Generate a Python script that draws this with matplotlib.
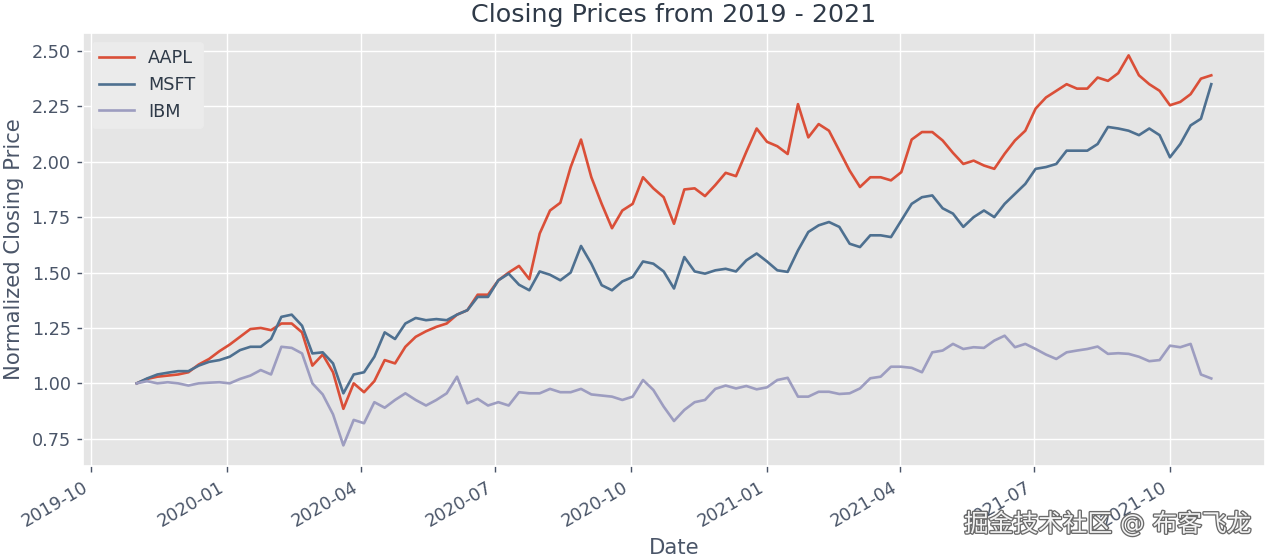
import pandas as pd
import matplotlib
matplotlib.use("Agg")
import matplotlib.pyplot as plt
import matplotlib.dates as mdates
import matplotlib.patheffects as pe

# weekly closes (Fridays), normalized to 2019-11-01
dates = pd.date_range("2019-11-01", periods=105, freq="7D")

aapl = [1.00, 1.02, 1.03, 1.035, 1.04, 1.05, 1.085, 1.11, 1.145, 1.175,
        1.21, 1.245, 1.25, 1.24, 1.27, 1.27, 1.23, 1.08, 1.13, 1.05,
        0.885, 1.00, 0.96, 1.01, 1.105, 1.09, 1.165, 1.21, 1.235, 1.255,
        1.27, 1.31, 1.33, 1.40, 1.40, 1.465, 1.50, 1.53, 1.47, 1.676,
        1.78, 1.815, 1.976, 2.10, 1.93, 1.81, 1.70, 1.78, 1.81, 1.93,
        1.88, 1.84, 1.72, 1.875, 1.88, 1.845, 1.895, 1.95, 1.935, 2.045,
        2.15, 2.09, 2.07, 2.035, 2.26, 2.11, 2.17, 2.14, 2.05, 1.96,
        1.886, 1.93, 1.93, 1.916, 1.953, 2.10, 2.134, 2.134, 2.096, 2.04,
        1.99, 2.005, 1.983, 1.968, 2.036, 2.096, 2.14, 2.24, 2.29, 2.32,
        2.35, 2.33, 2.33, 2.38, 2.365, 2.40, 2.48, 2.39, 2.35, 2.32,
        2.255, 2.27, 2.305, 2.375, 2.39]

msft = [1.00, 1.022, 1.04, 1.048, 1.055, 1.055, 1.08, 1.097, 1.105, 1.12,
        1.15, 1.165, 1.165, 1.20, 1.30, 1.31, 1.26, 1.135, 1.14, 1.09,
        0.955, 1.04, 1.05, 1.12, 1.23, 1.20, 1.27, 1.295, 1.285, 1.29,
        1.285, 1.31, 1.33, 1.39, 1.39, 1.465, 1.495, 1.445, 1.42, 1.505,
        1.49, 1.465, 1.50, 1.62, 1.54, 1.443, 1.42, 1.46, 1.48, 1.55,
        1.54, 1.505, 1.428, 1.57, 1.505, 1.495, 1.51, 1.517, 1.505, 1.555,
        1.586, 1.55, 1.51, 1.503, 1.60, 1.683, 1.713, 1.728, 1.706, 1.63,
        1.615, 1.668, 1.668, 1.66, 1.735, 1.81, 1.84, 1.848, 1.79, 1.766,
        1.706, 1.75, 1.78, 1.75, 1.81, 1.855, 1.90, 1.968, 1.976, 1.99,
        2.05, 2.05, 2.05, 2.08, 2.157, 2.15, 2.14, 2.12, 2.15, 2.12,
        2.02, 2.08, 2.164, 2.194, 2.35]

ibm = [1.00, 1.01, 1.00, 1.005, 1.00, 0.99, 1.00, 1.003, 1.005, 1.00,
       1.02, 1.035, 1.06, 1.04, 1.165, 1.16, 1.135, 1.00, 0.95, 0.86,
       0.72, 0.835, 0.82, 0.915, 0.89, 0.925, 0.955, 0.925, 0.90, 0.925,
       0.955, 1.03, 0.91, 0.93, 0.90, 0.915, 0.90, 0.96, 0.955, 0.955,
       0.975, 0.96, 0.96, 0.975, 0.95, 0.945, 0.94, 0.925, 0.94, 1.015,
       0.97, 0.895, 0.83, 0.88, 0.915, 0.925, 0.975, 0.99, 0.977, 0.988,
       0.973, 0.982, 1.015, 1.025, 0.94, 0.94, 0.962, 0.962, 0.952, 0.955,
       0.977, 1.023, 1.03, 1.075, 1.075, 1.07, 1.05, 1.14, 1.148, 1.178,
       1.155, 1.163, 1.16, 1.193, 1.215, 1.163, 1.178, 1.155, 1.13, 1.11,
       1.14, 1.148, 1.155, 1.166, 1.133, 1.136, 1.133, 1.12, 1.10, 1.105,
       1.17, 1.163, 1.178, 1.04, 1.022]

plt.style.use("ggplot")

fig = plt.figure(figsize=(10, 557 / 127), dpi=127)
ax = fig.add_axes([83 / 1270, 1 - 466 / 557, 1182 / 1270, 433 / 557])

ax.plot(dates, aapl, color="#DA4F38", label="AAPL")
ax.plot(dates, msft, color="#4E7090", label="MSFT")
ax.plot(dates, ibm, color="#9D9DC0", label="IBM")

ax.set_ylim(0.627, 2.581)
ax.xaxis.set_major_locator(mdates.MonthLocator(bymonth=[1, 4, 7, 10]))
ax.xaxis.set_major_formatter(mdates.DateFormatter("%Y-%m"))
plt.setp(ax.get_xticklabels(), rotation=30, ha="right")

ax.tick_params(colors="#4A5568", labelcolor="#4A5568")
ax.set_title("Closing Prices from 2019 - 2021", color="#2F3A48")
ax.set_xlabel("Date", color="#4A5568")
ax.set_ylabel("Normalized Closing Price", color="#4A5568")

leg = ax.legend(loc="upper left", facecolor="#EBEBEB", edgecolor="#EBEBEB", framealpha=1)
for t in leg.get_texts():
    t.set_color("#2F3A48")

fig.text(1108 / 1270, 1 - 524 / 557, "掘金技术社区 @ 布客飞龙", ha="center", va="center",
         fontsize=14, color="#F4F4F4", family=["DejaVu Sans", "Noto Sans CJK SC"],
         path_effects=[pe.withStroke(linewidth=1.5, foreground="#6A6A6A")])

fig.savefig("out.png", dpi=127)
